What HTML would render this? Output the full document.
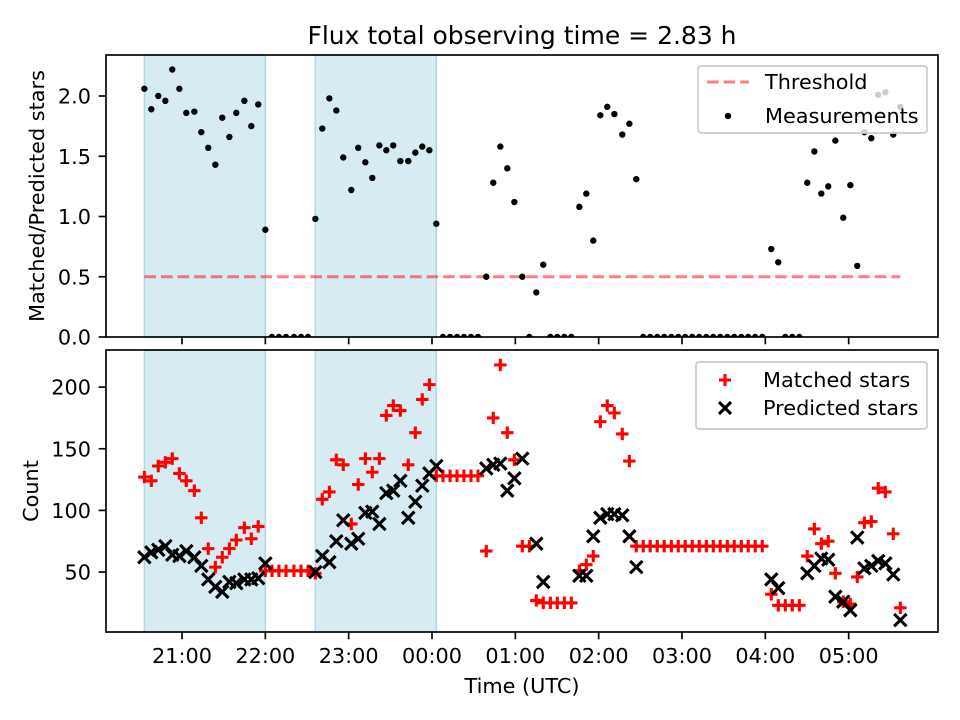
<!DOCTYPE html>
<html><head><meta charset="utf-8"><style>
html,body{margin:0;padding:0;background:#fff;}
svg{display:block;font-family:"DejaVu Sans","Liberation Sans",sans-serif;}
</style></head><body>
<svg id="fig" width="960" height="720" viewBox="0 0 960 720" xmlns="http://www.w3.org/2000/svg">
<defs>
<clipPath id="clipTop"><rect x="106" y="55" width="832" height="282"/></clipPath>
<clipPath id="clipBot"><rect x="106" y="350" width="832" height="282"/></clipPath>
</defs>
<g id="topPlot"></g>
<g id="botPlot"></g>
<text x="522" y="44" text-anchor="middle" font-size="25">Flux total observing time = 2.83 h</text>
<text x="522" y="693" text-anchor="middle" font-size="20.8">Time (UTC)</text>
<text transform="translate(44,196) rotate(-90)" text-anchor="middle" font-size="20.8">Matched/Predicted stars</text>
<text transform="translate(38,491) rotate(-90)" text-anchor="middle" font-size="20.8">Count</text>
</svg>
<script>
// minutes after 20:00 UTC
const times = [32.9,37.9,42.9,48.0,53.0,58.1,63.1,68.9,73.9,78.9,84.0,89.0,94.1,99.1,104.9,109.9,114.9,120.0,
124.8,129.8,134.9,140.6,145.7,150.7,
156.0,161.0,166.1,171.1,176.1,181.9,186.9,192.0,197.0,202.1,207.1,212.1,217.2,222.9,228.0,233.0,238.1,243.1,
247.9,253.0,258.0,263.0,268.1,273.1,
279.1,284.1,289.2,294.2,299.3,305.0,310.1,315.1,320.1,
325.2,330.2,335.3,340.3,
346.1,351.1,356.1,361.2,366.2,371.3,377.0,382.1,387.1,
392.1,397.1,402.2,407.2,412.3,417.3,422.3,427.4,432.4,437.5,442.5,447.5,452.6,457.6,462.7,467.7,472.7,477.8,
484.3,489.3,
494.4,499.4,504.5,
510.2,515.3,520.3,525.3,530.4,536.1,541.2,546.2,551.3,556.3,561.3,566.4,572.1,577.2];
const ratio = [2.06,1.89,2.00,1.96,2.22,2.06,1.86,1.87,1.70,1.57,1.43,1.82,1.66,1.86,1.96,1.75,1.93,0.89,
0,0,0,0,0,0,
0.98,1.73,1.98,1.88,1.49,1.22,1.57,1.45,1.32,1.59,1.55,1.59,1.46,1.46,1.53,1.58,1.55,0.94,
0,0,0,0,0,0,
0.50,1.28,1.58,1.40,1.12,0.50,0,0.37,0.60,
0,0,0,0,
1.08,1.19,0.80,1.84,1.91,1.85,1.68,1.77,1.31,
0,0,0,0,0,0,0,0,0,0,0,0,0,0,0,0,0,0,
0.73,0.62,
0,0,0,
1.28,1.54,1.19,1.25,1.63,0.99,1.26,0.59,1.70,1.65,2.01,2.03,1.68,1.91];
const matched = [127,124,136,139,142,130,124,116,94,69,54,62,69,76,86,77,87,51,
51,51,51,51,51,51,
49,109,115,141,137,89,121,142,131,142,177,185,181,137,163,190,202,128,
128,128,128,128,128,128,
67,175,218,163,141,71,71,27,25,
25,25,25,25,
51,56,63,172,185,179,162,140,71,
71,71,71,71,71,71,71,71,71,71,71,71,71,71,71,71,71,71,
32,23,
23,23,23,
63,85,73,75,49,26,24,46,90,91,118,115,81,21];
const predicted = [62,66,68,71,64,63,67,62,55,44,38,34,42,41,44,44,45,57,
null,null,null,null,null,null,
50,63,58,75,92,73,77,98,99,89,114,116,124,94,107,120,130,136,
null,null,null,null,null,null,
134,137,138,116,126,142,null,73,42,
null,null,null,null,
47,47,79,94,97,97,96,79,54,
null,null,null,null,null,null,null,null,null,null,null,null,null,null,null,null,null,null,
44,37,
null,null,null,
49,55,61,60,30,26,19,78,53,55,59,57,48,11];
const threshold = 0.5;
const shadeStart = [32.9, 156.0];
const shadeEnd = [120.0, 243.1];
const xTickValues = [60,120,180,240,300,360,420,480,540];
const xTickLabels = ["21:00","22:00","23:00","00:00","01:00","02:00","03:00","04:00","05:00"];
const topTickValues = [0,0.5,1.0,1.5,2.0];
const topTickLabels = ["0.0","0.5","1.0","1.5","2.0"];
const botTickValues = [50,100,150,200];
const botTickLabels = ["50","100","150","200"];

const NS = "http://www.w3.org/2000/svg";
const AX_L = 106, AX_R = 938, T1 = 55, B1 = 337, T2 = 350, B2 = 632;
function X(m){ return 182 + (m - 60) / 0.72; }
function Yt(v){ return 337 - 120.5 * v; }
function Yb(c){ return 633.7 - 1.233 * c; }
function mk(tag, attrs, parent){
  const e = document.createElementNS(NS, tag);
  for (const k in attrs) e.setAttribute(k, attrs[k]);
  parent.appendChild(e);
  return e;
}
const topG = document.getElementById('topPlot');
const botG = document.getElementById('botPlot');

function shading(g, y0, y1){
  for (let i = 0; i < shadeStart.length; i++){
    const r = mk('rect', {x: X(shadeStart[i]), y: y0, width: X(shadeEnd[i]) - X(shadeStart[i]), height: y1 - y0, fill: '#add8e6', 'fill-opacity': 0.5, stroke: '#add8e6', 'stroke-width': 1.5}, g);
    
    
  }
}
shading(topG, T1, B1);
shading(botG, T2, B2);

const th = mk('line', {x1: X(times[0]), x2: X(times[times.length-1]), y1: Yt(threshold), y2: Yt(threshold), stroke: '#ff0000', 'stroke-opacity': 0.5, 'stroke-width': 3.1, 'stroke-dasharray': '11.6 5'}, topG);



const gm = mk('g', {'clip-path': 'url(#clipTop)'}, topG);


for (let i = 0; i < times.length; i++){
  const c = mk('circle', {cx: X(times[i]), cy: Yt(ratio[i]), r: 3.2, fill: '#000'}, gm);
  
  
}

const gb = mk('g', {'clip-path': 'url(#clipBot)'}, botG);


const s = 6.2;
for (let i = 0; i < times.length; i++){
  if (matched[i] === null) continue;
  const x = X(times[i]), y = Yb(matched[i]);
  const p = mk('path', {d: `M${x-s},${y}H${x+s}M${x},${y-s}V${y+s}`, stroke: '#ff0000', 'stroke-width': 3.1, fill: 'none'}, gb);
  
  
}
for (let i = 0; i < times.length; i++){
  if (predicted[i] === null) continue;
  const x = X(times[i]), y = Yb(predicted[i]);
  const p = mk('path', {d: `M${x-s},${y-s}L${x+s},${y+s}M${x-s},${y+s}L${x+s},${y-s}`, stroke: '#000', 'stroke-width': 3.1, fill: 'none'}, gb);
  
  
}

function frame(g, y0, y1){
  const r = mk('rect', {x: AX_L, y: y0, width: AX_R - AX_L, height: y1 - y0, fill: 'none', stroke: '#000', 'stroke-width': 1.67}, g);
  
  
  for (let i = 0; i < xTickValues.length; i++){
    const x = X(xTickValues[i]);
    const t = mk('line', {x1: x, x2: x, y1: y1, y2: y1 + 7.3, stroke: '#000', 'stroke-width': 1.67}, g);
    
    
  }
}
frame(topG, T1, B1);
frame(botG, T2, B2);
for (let i = 0; i < xTickValues.length; i++){
  const t = mk('text', {x: X(xTickValues[i]), y: 663, 'text-anchor': 'middle', 'font-size': 20.8}, botG);
  t.textContent = xTickLabels[i];
  
  
}
function yticks(g, vals, labs, fn){
  for (let i = 0; i < vals.length; i++){
    const y = fn(vals[i]);
    const l = mk('line', {x1: AX_L - 7.3, x2: AX_L, y1: y, y2: y, stroke: '#000', 'stroke-width': 1.67}, g);
    
    
    const t = mk('text', {x: 91, y: y + 7.5, 'text-anchor': 'end', 'font-size': 20.8}, g);
    t.textContent = labs[i];
    
    
  }
}
yticks(topG, topTickValues, topTickLabels, Yt);
yticks(botG, botTickValues, botTickLabels, Yb);

function legendBox(g, x, y, w, h){
  return mk('rect', {x: x, y: y, width: w, height: h, rx: 3, fill: '#fff', 'fill-opacity': 0.8, stroke: '#cccccc', 'stroke-width': 1.67}, g);
}
const lg1 = mk('g', {}, topG);


legendBox(lg1, 698, 66, 229, 67);
mk('line', {x1: 707, x2: 749, y1: 82, y2: 82, stroke: '#ff0000', 'stroke-opacity': 0.5, 'stroke-width': 3.1, 'stroke-dasharray': '11.6 5'}, lg1);
const lt1 = mk('text', {x: 765, y: 89, 'font-size': 20.8}, lg1); lt1.textContent = 'Threshold';


mk('circle', {cx: 728, cy: 116, r: 3.2, fill: '#000'}, lg1);
const lt2 = mk('text', {x: 765, y: 123, 'font-size': 20.8}, lg1); lt2.textContent = 'Measurements';



const lg2 = mk('g', {}, botG);


legendBox(lg2, 696, 362, 231, 67);
mk('path', {d: 'M719,380H731M725,374V386', stroke: '#ff0000', 'stroke-width': 3.1}, lg2);
const lt3 = mk('text', {x: 763, y: 387, 'font-size': 20.8}, lg2); lt3.textContent = 'Matched stars';


mk('path', {d: 'M719,402L731,414M719,414L731,402', stroke: '#000', 'stroke-width': 3.1}, lg2);
const lt4 = mk('text', {x: 763, y: 415, 'font-size': 20.8}, lg2); lt4.textContent = 'Predicted stars';


</script>
</body></html>
